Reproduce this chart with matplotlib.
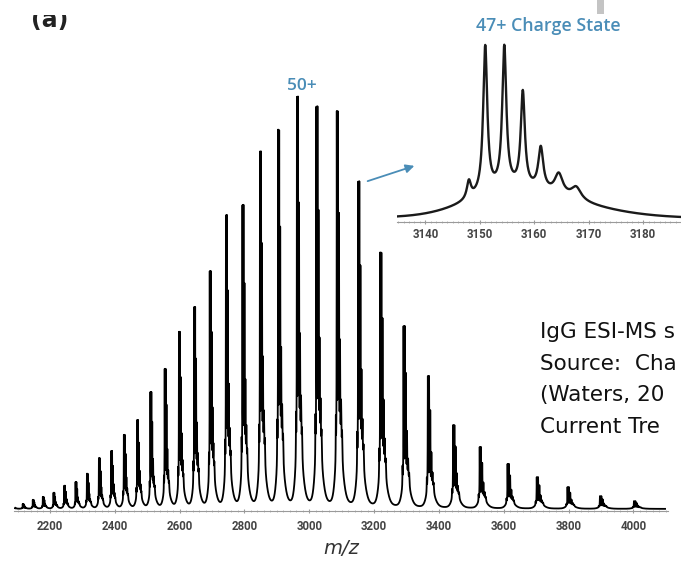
import numpy as np
import matplotlib
matplotlib.use("Agg")
import matplotlib.pyplot as plt
from matplotlib.patches import Rectangle, FancyArrowPatch

# ---------------- data ----------------
charge_states = [71, 70, 69, 68, 67, 66, 65, 64, 63, 62, 61, 60, 59, 58, 57, 56, 55, 54,
                 53, 52, 51, 50, 49, 48, 47, 46, 45, 44, 43, 42, 41, 40, 39, 38, 37]
peak_mz = [2086, 2116, 2147, 2178, 2211, 2244, 2279, 2314, 2351, 2389, 2428, 2469, 2510,
           2554, 2598, 2645, 2693, 2743, 2794, 2848, 2904, 2962, 3022, 3085, 3151, 3219,
           3291, 3366, 3444, 3526, 3612, 3702, 3797, 3897, 4002]
peak_height = [0.7, 1.2, 2.2, 2.9, 3.9, 5.6, 6.5, 8.5, 12.3, 14.0, 17.9, 21.5, 28.3, 33.9,
               42.9, 48.9, 57.6, 71.2, 73.6, 86.7, 92.0, 100.0, 97.6, 96.6, 79.4, 62.2,
               44.3, 32.2, 20.3, 15.0, 10.9, 7.7, 5.3, 3.1, 1.9]

# glycoform pattern of the 47+ charge state (inset)
glyco_offset = [-3.0, 0.0, 3.5, 6.9, 10.2, 13.5, 16.7]
glyco_rel = [0.21, 1.0, 0.994, 0.73, 0.406, 0.257, 0.183]

main_ticks = [2200, 2400, 2600, 2800, 3000, 3200, 3400, 3600, 3800, 4000]
inset_ticks = [3140, 3150, 3160, 3170, 3180]
ref_charge = 47
inset_charge_label = "47+ Charge State"
top_label = "50+"
axis_label = "m/z"
note_lines = ["IgG ESI-MS s", "Source:  Cha", "(Waters, 20", "Current Tre"]

# ---------------- peak shape (styling of the profile) ----------------
glyco_hwhm = [0.45, 0.45, 0.45, 0.45, 0.55, 0.9, 1.1]
base_amp, base_shift, base_sig_l, base_sig_r, eta = 0.18, 5.0, 8.0, 12.0, 0.35


def base_shape(d):
    b = d - base_shift
    sig = np.where(b < 0, base_sig_l, base_sig_r)
    g = np.exp(-0.5 * (b / sig) ** 2)
    lor = 1.0 / (1.0 + (b / (sig * 1.1774)) ** 2)
    return base_amp * ((1 - eta) * g + eta * lor)


def template(d):
    y = base_shape(d)
    for off, rel, hw in zip(glyco_offset, glyco_rel, glyco_hwhm):
        a = max(rel - float(base_shape(np.array([off]))[0]), 0.0)
        y = y + a / (1.0 + ((d - off) / hw) ** 2)
    return y


t_norm = template(np.arange(-40.0, 60.0, 0.01)).max()


def cluster(x, center, height, z):
    d = (x - center) * z / ref_charge
    return height * template(d) / t_norm


x = np.arange(2092.0, 4098.0, 0.05)
spec = np.zeros_like(x)
for z, c, h in zip(charge_states, peak_mz, peak_height):
    spec += cluster(x, c, h, z)

# ---------------- figure ----------------
W, H = 681, 561
fig = plt.figure(figsize=(W / 100, H / 100), dpi=100)
fig.patch.set_facecolor("white")


def fx(px):
    return px / W


def fy(py):
    return 1 - py / H


blue = "#4a8db7"
tick_color = "#444444"

# main axes
px_per_unit = 4.10
ymin, ymax = -0.5, 102.0
ax_h = (ymax - ymin) * px_per_unit
ax = fig.add_axes([fx(14), fy(511), fx(668) - fx(14), ax_h / H])
ax.plot(x, spec, color="#000000", lw=1.3)
ax.set_xlim(2089, 4107)
ax.set_ylim(ymin, ymax)
for s in ["left", "right", "top"]:
    ax.spines[s].set_visible(False)
ax.spines["bottom"].set_color("#9a9a9a")
ax.spines["bottom"].set_linewidth(0.8)
ax.set_yticks([])
ax.set_xticks(main_ticks)
ax.set_xticks(np.arange(2100, 4101, 20), minor=True)
ax.tick_params(axis="x", which="major", length=3, direction="inout", color="#9a9a9a",
               pad=5, labelsize=8.3, labelcolor=tick_color)
ax.tick_params(axis="x", which="minor", length=2, direction="inout", color="#b0b0b0")
for lab in ax.get_xticklabels():
    lab.set_fontfamily("Roboto")
    lab.set_fontweight("bold")
ax.patch.set_alpha(0)

# inset axes
in_ppu = 175 / 79.4
iy0, iy1 = -0.5, 82.0
in_h = (iy1 - iy0) * in_ppu
axi = fig.add_axes([fx(397), fy(222), fx(690) - fx(397), in_h / H])
axi.plot(x, spec, color="#1a1a1a", lw=1.7)
axi.set_xlim(3134.8, 3188.6)
axi.set_ylim(iy0, iy1)
for s in ["left", "right", "top"]:
    axi.spines[s].set_visible(False)
axi.spines["bottom"].set_color("#9a9a9a")
axi.spines["bottom"].set_linewidth(0.8)
axi.set_yticks([])
axi.set_xticks(inset_ticks)
axi.set_xticks(np.arange(3135, 3189, 1), minor=True)
axi.tick_params(axis="x", which="major", length=3, direction="inout", color="#9a9a9a",
                pad=3, labelsize=8.3, labelcolor=tick_color)
axi.tick_params(axis="x", which="minor", length=2, direction="inout", color="#b0b0b0")
for lab in axi.get_xticklabels():
    lab.set_fontfamily("Roboto")
    lab.set_fontweight("bold")
axi.patch.set_alpha(0)

# labels
fig.text(fx(302), fy(86), top_label, color=blue, fontsize=12.5, fontweight="semibold",
         family="Open Sans", ha="center", va="center")
fig.text(fx(548), fy(26), inset_charge_label, color=blue, fontsize=12.8,
         fontweight="semibold", family="Open Sans", ha="center", va="center")
fig.text(fx(341), fy(548), axis_label, fontsize=14, style="italic", color="#333333",
         ha="center", va="center")

arrow = FancyArrowPatch((fx(365), fy(182)), (fx(417), fy(165)), transform=fig.transFigure,
                        arrowstyle="-|>,head_length=5,head_width=2.5", color=blue, lw=1.3)
fig.patches.append(arrow)

# note text block on the right
for i, line in enumerate(note_lines):
    fig.text(fx(540), fy(338 + 31.7 * i), line, fontsize=15.5, color="#111111",
             family="DejaVu Sans", ha="left", va="baseline")

# panel label (top cut off)
fig.text(fx(50), fy(27), "(a)", fontsize=17, fontweight="bold", color="#222222",
         ha="center", va="baseline")
fig.patches.append(Rectangle((fx(20), fy(15)), fx(60), fy(0) - fy(15),
                             transform=fig.transFigure, facecolor="white",
                             edgecolor="none", zorder=10))
# grey slide element at the top
fig.patches.append(Rectangle((fx(597), fy(14)), fx(7), fy(0) - fy(14),
                             transform=fig.transFigure, facecolor="#c4c4c4",
                             edgecolor="none", zorder=10))

fig.savefig("out.png", dpi=100)
